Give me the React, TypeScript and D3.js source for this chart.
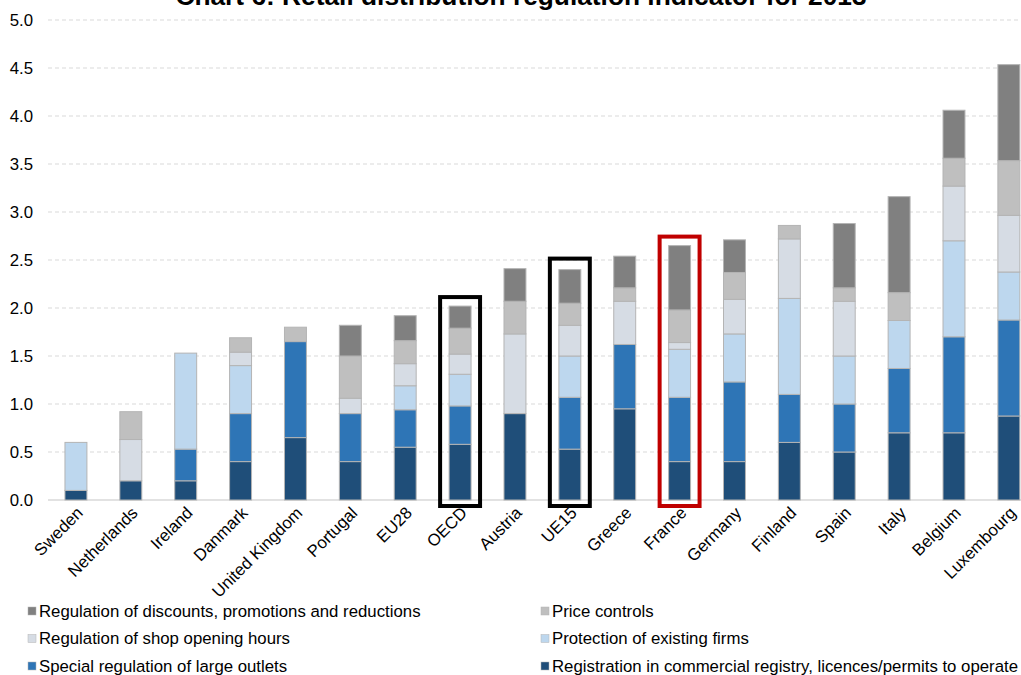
import React from "react";
import * as d3 from "d3";

const countries = ["Sweden","Netherlands","Ireland","Danmark","United Kingdom","Portugal","EU28","OECD","Austria","UE15","Greece","France","Germany","Finland","Spain","Italy","Belgium","Luxembourg"];
const registration = [0.1,0.2,0.2,0.4,0.65,0.4,0.55,0.58,0.9,0.53,0.95,0.4,0.4,0.6,0.5,0.7,0.7,0.875];
const largeOutlets = [0,0,0.33,0.5,1.0,0.5,0.39,0.4,0,0.54,0.67,0.67,0.83,0.5,0.5,0.67,1.0,1.0];
const protection = [0.5,0,1.0,0.5,0,0,0.25,0.33,0,0.43,0,0.5,0.5,1.0,0.5,0.5,1.0,0.5];
const shopHours = [0,0.43,0,0.14,0,0.16,0.23,0.21,0.83,0.32,0.45,0.07,0.36,0.62,0.57,0,0.57,0.59];
const priceControls = [0,0.29,0,0.15,0.15,0.44,0.24,0.27,0.34,0.23,0.14,0.34,0.28,0.14,0.14,0.29,0.29,0.57];
const discounts = [0,0,0,0,0,0.32,0.26,0.23,0.34,0.35,0.33,0.67,0.34,0,0.67,1.0,0.5,1.0];

const seriesKeys = ["registration","largeOutlets","protection","shopHours","priceControls","discounts"];
const seriesNames: Record<string,string> = {
  registration: "Registration in commercial registry, licences/permits to operate",
  largeOutlets: "Special regulation of large outlets",
  protection: "Protection of existing firms",
  shopHours: "Regulation of shop opening hours",
  priceControls: "Price controls",
  discounts: "Regulation of discounts, promotions and reductions",
};
const seriesColors: Record<string,string> = {
  registration: "#1F4E79",
  largeOutlets: "#2E75B6",
  protection: "#BDD7EE",
  shopHours: "#D6DCE4",
  priceControls: "#BFBFBF",
  discounts: "#808080",
};
const legendOrder = [
  ["discounts","priceControls"],
  ["shopHours","protection"],
  ["largeOutlets","registration"],
];
const yTicks = [0,0.5,1,1.5,2,2.5,3,3.5,4,4.5,5];
const highlights: Record<string,string> = { OECD: "#000000", UE15: "#000000", France: "#C00000" };
const title = "Chart 6: Retail distribution regulation indicator for 2013";

const W = 1021, H = 675;
const FONT = "'Liberation Sans', Arial, sans-serif";

export default function App() {
  const rows = countries.map((c, i) => ({
    country: c,
    registration: registration[i],
    largeOutlets: largeOutlets[i],
    protection: protection[i],
    shopHours: shopHours[i],
    priceControls: priceControls[i],
    discounts: discounts[i],
  }));
  const stacked = d3.stack<any>().keys(seriesKeys)(rows);
  const x = d3.scaleBand<string>().domain(countries).range([48.5, 1036.3]).paddingInner(0.6).paddingOuter(0.3);
  const y = d3.scaleLinear().domain([0, 5]).range([500, 20]);
  const bw = x.bandwidth();
  const totals = rows.map(r => seriesKeys.reduce((s, k) => s + (r as any)[k], 0));

  return (
    <svg width={W} height={H} style={{ position: "absolute", left: 0, top: 0, background: "#fff" }} fontFamily={FONT}>
      <text x={521} y={5} textAnchor="middle" fontSize={26.3} fontWeight="bold" fill="#000">{title}</text>
      {yTicks.map(t => (
        <g key={t}>
          {t > 0 && <line x1={48} x2={W} y1={y(t)} y2={y(t)} stroke="#D9D9D9" strokeWidth={1} strokeDasharray="4,3" />}
          <text x={33} y={y(t)} dy="0.35em" textAnchor="end" fontSize={16.8} fill="#000">{t.toFixed(1)}</text>
        </g>
      ))}
      <line x1={48} x2={W} y1={y(0)} y2={y(0)} stroke="#D9D9D9" strokeWidth={1.5} />
      {stacked.map(s => (
        <g key={s.key} fill={seriesColors[s.key]}>
          {s.map((d, i) => d[1] - d[0] > 0 ? (
            <rect key={i} x={x(countries[i])!} width={bw} y={y(d[1])} height={y(d[0]) - y(d[1])} stroke="#B4B4B4" strokeWidth={1} />
          ) : null)}
        </g>
      ))}
      {countries.map((c, i) => highlights[c] ? (
        <rect key={"h" + c} x={x(c)! - 9} width={bw + 18} y={y(totals[i]) - (c === "UE15" ? 11 : 9)} height={y(0) - y(totals[i]) + (c === "UE15" ? 17 : 15)}
          fill="none" stroke={highlights[c]} strokeWidth={4} />
      ) : null)}
      {countries.map(c => {
        const cx = x(c)! + bw / 2 + 8;
        const cy = 514;
        return (
          <text key={"l" + c} x={cx} y={cy} transform={`rotate(-45 ${cx} ${cy})`} textAnchor="end" fontSize={16.8} fill="#000">{c}</text>
        );
      })}
      {legendOrder.map((row, ri) => row.map((k, ci) => {
        const lx = ci === 0 ? 28 : 541;
        const ly = 611 + ri * 27.5;
        return (
          <g key={k}>
            <rect x={lx} y={ly - 4} width={8} height={8} fill={seriesColors[k]} stroke="#B4B4B4" strokeWidth={0.5} />
            <text x={lx + 11} y={ly} dy="0.35em" fontSize={16.8} fill="#000">{seriesNames[k]}</text>
          </g>
        );
      }))}
    </svg>
  );
}
